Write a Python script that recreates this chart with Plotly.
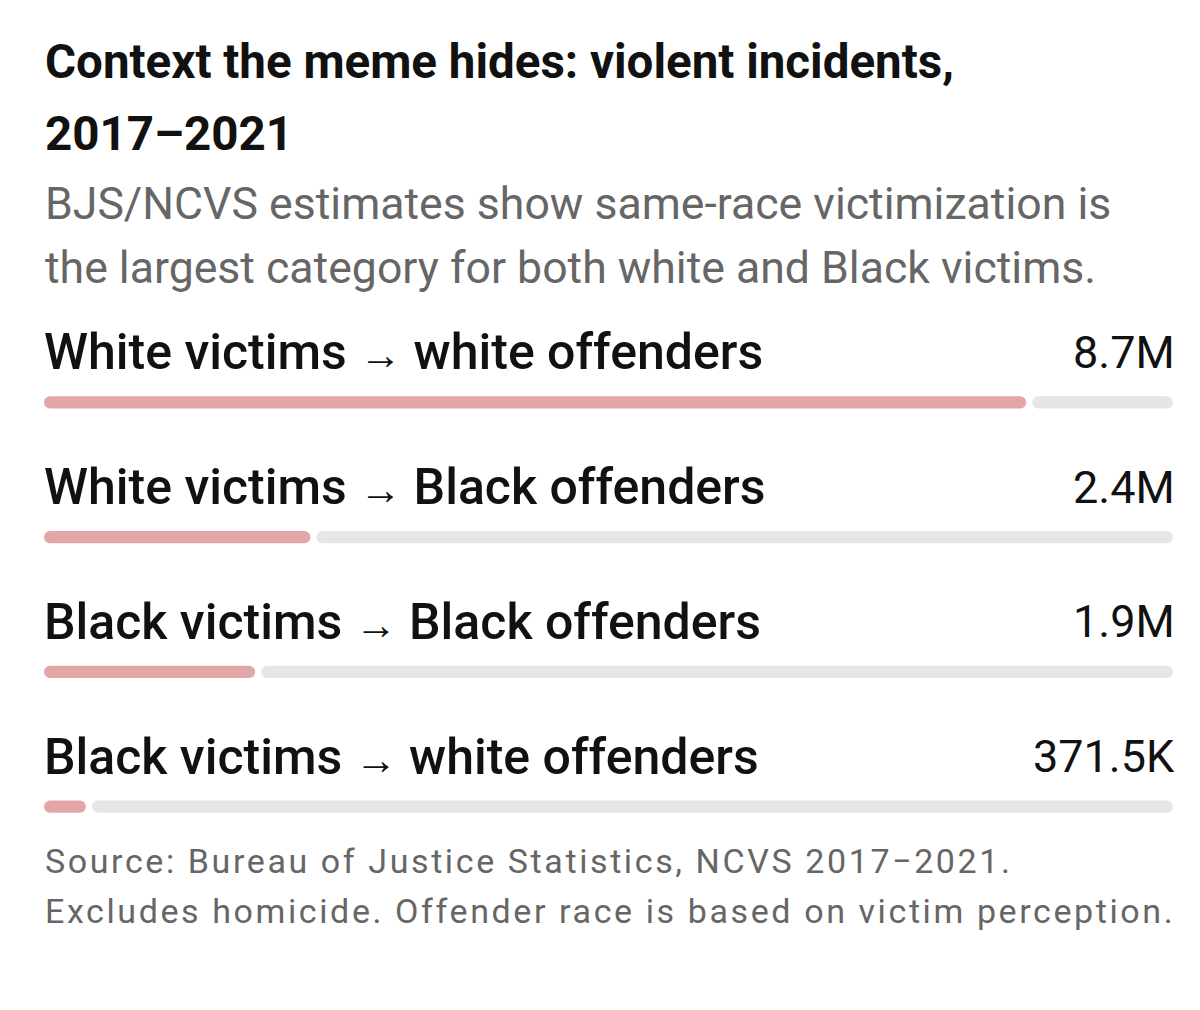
import plotly.graph_objects as go

# Données BJS/NCVS 2017-2021 (lecture du graphique)
victim_race = ["White", "White", "Black", "Black"]
offender_race = ["white", "Black", "Black", "white"]
incidents = [8_700_000, 2_360_000, 1_870_000, 371_500]
value_labels = ["8.7M", "2.4M", "1.9M", "371.5K"]
scale_max = 10_000_000

title_lines = ["Context the meme hides: violent incidents,", "2017–2021"]
subtitle_lines = [
    "BJS/NCVS estimates show same-race victimization is",
    "the largest category for both white and Black victims.",
]
source_lines = [
    "Source: Bureau of Justice Statistics, NCVS 2017−2021.",
    "Excludes homicide. Offender race is based on victim perception.",
]

# la page ajoute une marge de 8px autour de la figure
OFF = 8
W, H = 1200 - 2 * OFF, 1010 - 2 * OFF
M_L, M_R = 44 - OFF, 1200 - OFF - 1173
M_T, M_B = 334.5 - OFF, 1010 - OFF - 874.5
PLOT_H = H - M_T - M_B
PLOT_W = W - M_L - M_R
FILL = "#e3a6a6"
TRACK = "#e6e6e6"
FONT = "Roboto"
gap = scale_max * 6 / PLOT_W  # ~6px entre barre et piste

rows = list(range(len(incidents)))


def py(pixel_y):
    """Pixel (page) -> coordonnée paper en y."""
    return (H - M_B - (pixel_y - OFF)) / PLOT_H


def px(pixel_x):
    return (pixel_x - OFF - M_L) / PLOT_W


fig = go.Figure()

# piste grise (arrondie à droite)
fig.add_trace(
    go.Bar(
        y=rows,
        base=[v + gap for v in incidents],
        x=[scale_max - v - gap for v in incidents],
        orientation="h",
        width=0.09,
        marker=dict(color=TRACK, cornerradius=6, line=dict(width=0)),
        hoverinfo="skip",
    )
)
# barre rose (arrondie à gauche : on part de la valeur vers 0)
fig.add_trace(
    go.Bar(
        y=rows,
        base=incidents,
        x=[-v for v in incidents],
        orientation="h",
        width=0.09,
        marker=dict(color=FILL, cornerradius=6, line=dict(width=0)),
        hoverinfo="skip",
    )
)

annotations = []
for i, line in enumerate(title_lines):
    annotations.append(
        dict(text=line, x=px(43), y=py(61 + i * 72), xref="paper", yref="paper",
             xanchor="left", yanchor="middle", showarrow=False,
             font=dict(family=FONT, size=47.5, color="#111111", weight="bold"))
    )
for i, line in enumerate(subtitle_lines):
    annotations.append(
        dict(text=line, x=px(43), y=py(203 + i * 64), xref="paper", yref="paper",
             xanchor="left", yanchor="middle", showarrow=False,
             font=dict(family=FONT, size=44.6, color="#666666"))
    )
for r, vr, orr, lab in zip(rows, victim_race, offender_race, value_labels):
    text = f"{vr} victims <span style='font-size:42px'>→</span> {orr} offenders"
    annotations.append(
        dict(text=text, x=0, y=r, xref="x", yref="y", yshift=50, xshift=-2,
             xanchor="left", yanchor="middle", showarrow=False,
             font=dict(family=FONT, size=50, color="#111111", weight=500))
    )
    annotations.append(
        dict(text=lab, x=scale_max, y=r, xref="x", yref="y", yshift=50, xshift=4,
             xanchor="right", yanchor="middle", showarrow=False,
             font=dict(family=FONT, size=45, color="#111111"))
    )
for i, line in enumerate(source_lines):
    annotations.append(
        dict(text=f"<span style='letter-spacing:2.6px'>{line}</span>",
             x=px(43), y=py(861 + i * 51), xref="paper", yref="paper",
             xanchor="left", yanchor="middle", showarrow=False,
             font=dict(family=FONT, size=34, color="#666666"))
    )

fig.update_layout(
    width=W,
    height=H,
    margin=dict(l=M_L, r=M_R, t=M_T, b=M_B, pad=0),
    barmode="overlay",
    showlegend=False,
    plot_bgcolor="white",
    paper_bgcolor="white",
    xaxis=dict(range=[0, scale_max], visible=False, fixedrange=True),
    yaxis=dict(range=[3.5, -0.5], visible=False, fixedrange=True),
    annotations=annotations,
)

fig.write_html("out.html")
